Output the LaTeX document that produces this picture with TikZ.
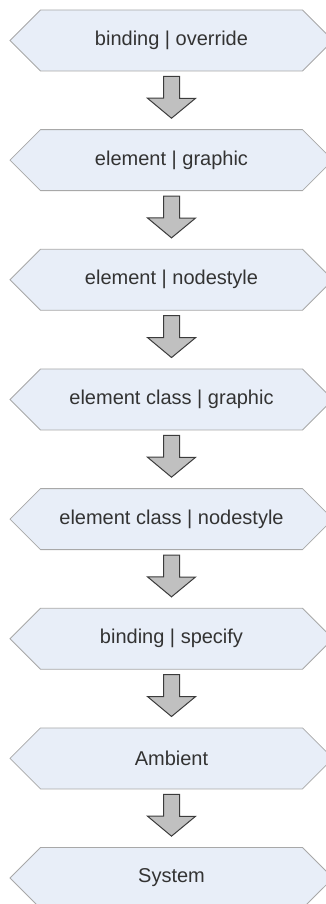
\documentclass[tikz,border=0pt]{standalone}
\usepackage{fontspec}
\setmainfont{Liberation Sans}
\usepackage{tikz}
\usetikzlibrary{positioning,calc,shapes.symbols}

\definecolor{boxfill}{HTML}{E8EEF8}
\definecolor{boxline}{HTML}{A8A8A8}
\definecolor{arrfill}{HTML}{C0C0C0}
\definecolor{arrline}{HTML}{3C3C3C}
\definecolor{txtgray}{HTML}{333333}

\begin{document}
\begin{tikzpicture}[x=1pt, y=1pt,
    hexbox/.style={signal, signal to=west and east, signal pointer angle=90,
      draw=boxline, fill=boxfill, line width=0.8pt, minimum width=323pt, minimum height=61pt,
      inner sep=0pt, text=txtgray, font=\fontsize{20}{24}\selectfont},
    blockarrow/.style={draw=arrline, fill=arrfill, line width=1pt, line join=miter}]
  \useasboundingbox (0,0) rectangle (325,-904);
  \foreach \lab [count=\k] in {binding | override, element | graphic, element | nodestyle,
      element class | graphic, element class | nodestyle, binding | specify, Ambient, System}
    \node[hexbox] (b\k) at (171.5,{-40.5-(\k-1)*119.65}) {\lab};
  % block arrows between the levels
  \foreach \k [evaluate=\k as \j using int(\k+1)] in {1,...,7}
    \draw[blockarrow] ($(b\k.south)+(-8,-5)$) -- ++(16,0) -- ++(0,-22) -- ++(16,0)
      -- ($(b\j.north)+(0,11)$) -- ++(-24,20) -- ++(16,0) -- cycle;
\end{tikzpicture}
\end{document}
